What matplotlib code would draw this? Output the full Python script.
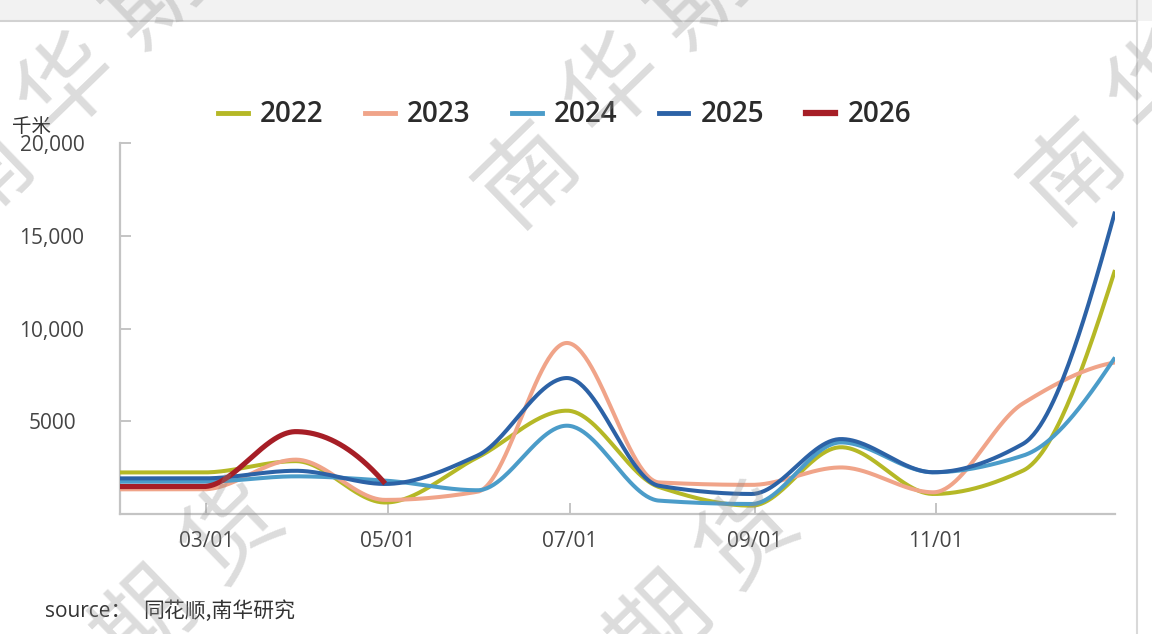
import numpy as np
import pandas as pd
import matplotlib
matplotlib.use("Agg")
import matplotlib.pyplot as plt
import matplotlib.dates as mdates
from matplotlib.lines import Line2D
from matplotlib.patches import Rectangle

# monthly values (month-end), 千米
dates = pd.date_range("2023-01-31", periods=12, freq="ME")
v2022 = [2240, 2240, 2850, 620, 3050, 5570, 1450, 450, 3600, 1080, 2330, 13150]
v2023 = [1330, 1330, 2930, 760, 1200, 9220, 1700, 1570, 2510, 1170, 5950, 8170]
v2024 = [1740, 1740, 2030, 1800, 1280, 4760, 720, 540, 3860, 2250, 3140, 8440]
v2025 = [1920, 1920, 2330, 1620, 3150, 7330, 1520, 1080, 4040, 2250, 3770, 16300]
v2026 = [1480, 1480, 4440, 1640]

years = ["2022", "2023", "2024", "2025", "2026"]
series = [v2022, v2023, v2024, v2025, v2026]
colors = ["#b5b826", "#f0a489", "#4b9cc9", "#2c62a6", "#a61e26"]
widths = [2.9, 2.9, 2.9, 2.9, 3.7]

yticks = [5000, 10000, 15000, 20000]
ytick_labels = ["5000", "10,000", "15,000", "20,000"]
xtick_dates = pd.to_datetime(["2023-03-01", "2023-05-01", "2023-07-01", "2023-09-01", "2023-11-01"])

W, H = 1152, 634


def pchip(x, y, xs):
    # monotone cubic (Fritsch-Carlson) for the smoothed lines
    x = np.asarray(x, float)
    y = np.asarray(y, float)
    h = np.diff(x)
    d = np.diff(y) / h
    n = len(x)
    m = np.zeros(n)
    for k in range(1, n - 1):
        if d[k - 1] * d[k] > 0:
            w1 = 2 * h[k] + h[k - 1]
            w2 = h[k] + 2 * h[k - 1]
            m[k] = (w1 + w2) / (w1 / d[k - 1] + w2 / d[k])
    e0 = ((2 * h[0] + h[1]) * d[0] - h[0] * d[1]) / (h[0] + h[1])
    e1 = ((2 * h[-1] + h[-2]) * d[-1] - h[-1] * d[-2]) / (h[-1] + h[-2])
    m[0] = e0 if np.sign(e0) == np.sign(d[0]) else 0.0
    m[-1] = e1 if np.sign(e1) == np.sign(d[-1]) else 0.0
    idx = np.clip(np.searchsorted(x, xs) - 1, 0, n - 2)
    t = (xs - x[idx]) / h[idx]
    h00 = 2 * t**3 - 3 * t**2 + 1
    h10 = t**3 - 2 * t**2 + t
    h01 = -2 * t**3 + 3 * t**2
    h11 = t**3 - t**2
    return h00 * y[idx] + h10 * h[idx] * m[idx] + h01 * y[idx + 1] + h11 * h[idx] * m[idx + 1]


fig = plt.figure(figsize=(W / 100, H / 100), dpi=100)
ax = fig.add_axes([120 / W, 1 - 514 / H, (1115 - 120) / W, (514 - 143) / H])

xnum = mdates.date2num(dates)
handles = []
for name, vals, c, lw in zip(years, series, colors, widths):
    xp = xnum[:len(vals)]
    xs = np.linspace(xp[0], xp[-1], 600)
    ax.plot(xs, pchip(xp, vals, xs), color=c, lw=lw, solid_capstyle="butt", zorder=3)
    handles.append(Line2D([], [], color=c, lw=4.5 if name == "2026" else 3.5))

ax.set_xlim(xnum[0], xnum[-1])
ax.set_ylim(0, 20000)

for s in ["top", "right"]:
    ax.spines[s].set_visible(False)
for s in ["left", "bottom"]:
    ax.spines[s].set_color("#c4c4c4")
    ax.spines[s].set_linewidth(1.6)

ax.set_xticks(mdates.date2num(xtick_dates))
ax.xaxis.set_major_formatter(mdates.DateFormatter("%m/%d"))
ax.set_yticks(yticks, ytick_labels)
ax.tick_params(axis="both", direction="in", length=8, width=1.4, color="#c4c4c4",
               labelcolor="#444444", labelsize=15)
ax.tick_params(axis="y", pad=49)
ax.tick_params(axis="x", pad=12)
for lbl in ax.get_yticklabels():
    lbl.set_horizontalalignment("center")
    lbl.set_family("Open Sans")
for lbl in ax.get_xticklabels():
    lbl.set_family("Open Sans")

fig.text(12 / W, 1 - 126 / H, "千米", fontsize=14, color="#333333",
         family=["Noto Sans CJK SC", "DejaVu Sans"], va="center", ha="left")

fig.legend(handles, years, loc="center", bbox_to_anchor=(565 / W, 1 - 115 / H),
           ncol=5, frameon=False, handlelength=1.05, handletextpad=0.45, columnspacing=1.5,
           prop={"family": "Open Sans", "size": 20, "weight": "semibold"})
for t in fig.legends[0].get_texts():
    t.set_color("#2b2b2b")

fig.text(45 / W, 1 - 611 / H, "source：", fontsize=15, color="#333333",
         family=["Open Sans", "Noto Sans CJK SC"], va="center", ha="left")
fig.text(143 / W, 1 - 611 / H, "同花顺,南华研究", fontsize=15, color="#333333",
         family=["Noto Sans CJK SC", "DejaVu Sans"], style="italic", va="center", ha="left")

# header strip and right border
fig.patches.append(Rectangle((0, 1 - 21 / H), 1, 21 / H, transform=fig.transFigure,
                             facecolor="#f2f2f2", edgecolor="none", zorder=0))
fig.add_artist(Line2D([0, 1137 / W], [1 - 21 / H] * 2, transform=fig.transFigure,
                      color="#d2d2d2", lw=1.5))
fig.add_artist(Line2D([1137 / W] * 2, [0, 1], transform=fig.transFigure,
                      color="#d9d9d9", lw=1.5))

# tiled watermark, one glyph at a time so the spacing can be set
wm_chars = "南华期货"
wm_step = (86, -89)
wm_starts = [(-17, 175), (528, 175), (1073, 172), (-25, 800), (490, 805)]
for sx, sy in wm_starts:
    for i, ch in enumerate(wm_chars):
        px = sx + i * wm_step[0]
        py = sy + i * wm_step[1]
        if -80 < px < W + 80 and -80 < py < H + 80:
            fig.text(px / W, 1 - py / H, ch, fontsize=70, color="#8c8c8c", alpha=0.3,
                     family=["Noto Sans CJK SC"], weight="medium", rotation=44,
                     rotation_mode="anchor", ha="center", va="center", zorder=10)

fig.savefig("out.png", dpi=100)
